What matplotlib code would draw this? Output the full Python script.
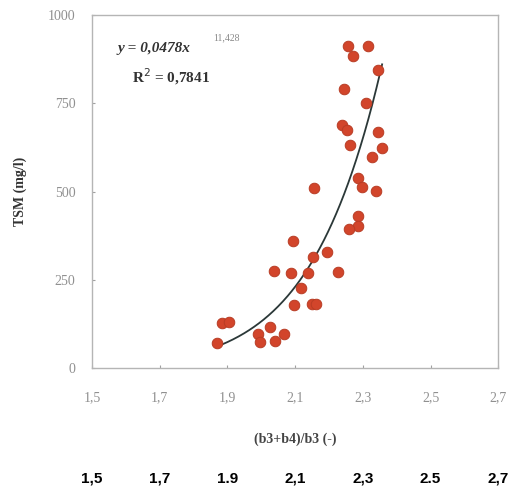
import numpy as np
import matplotlib
matplotlib.use("Agg")
import matplotlib.pyplot as plt

# (b3+b4)/b3 ratio and TSM (mg/l)
ratio = [2.255, 2.315, 2.272, 2.346, 2.245, 2.310, 2.238, 2.254, 2.344, 2.263,
         2.356, 2.327, 2.156, 2.287, 2.299, 2.339, 2.287, 2.287, 2.258, 2.095,
         2.194, 2.154, 2.228, 2.039, 2.087, 2.139, 2.118, 2.097, 2.149, 2.162,
         1.884, 1.905, 2.026, 1.991, 1.997, 2.068, 2.041, 1.868]
tsm = [913, 913, 885, 844, 792, 750, 688, 674, 669, 632,
       622, 597, 511, 537, 512, 502, 431, 402, 393, 361,
       329, 315, 271, 275, 268, 269, 227, 178, 181, 181,
       126, 130, 117, 97, 74, 95, 76, 71]

# power fit shown on the chart
fit_a = 0.0478
fit_b = 11.428
fit_range = (1.883, 2.357)

xticks = [1.5, 1.7, 1.9, 2.1, 2.3, 2.5, 2.7]
xtick_labels = ["1,5", "1,7", "1,9", "2,1", "2,3", "2,5", "2,7"]
bold_labels = ["1,5", "1,7", "1.9", "2,1", "2,3", "2.5", "2,7"]
yticks = [0, 250, 500, 750, 1000]

plt.rcParams['font.family'] = ['Liberation Serif', 'DejaVu Serif']

fig = plt.figure(figsize=(5.11, 4.88), dpi=100)
ax = fig.add_axes([0.180, 0.246, 0.795, 0.723])

xf = np.linspace(fit_range[0], fit_range[1], 200)
ax.plot(xf, fit_a * xf ** fit_b, color='#2b3838', lw=1.3, zorder=2)
ax.plot(ratio, tsm, 'o', ms=7.6, color='#d2452b', mec='#b83c24', mew=0.7, zorder=3)

ax.set_xlim(1.5, 2.7)
ax.set_ylim(0, 1000)
ax.set_xticks(xticks)
ax.set_xticklabels(xtick_labels)
ax.set_yticks(yticks)
ax.tick_params(colors='#a0a0a0', labelcolor='#909090', labelsize=10,
               direction='in', length=2, pad=12)
ax.tick_params(axis='x', pad=17)
for s in ax.spines.values():
    s.set_color('#b5b5b5')
    s.set_linewidth(1.0)

ax.set_xlabel("(b3+b4)/b3 (-)", fontsize=10, fontweight='bold', color='#444444', labelpad=20)
ax.set_ylabel("TSM (mg/l)", fontsize=10, fontweight='bold', color='#333333', labelpad=15)

ax.text(0.062, 0.895, "y = 0,0478x", transform=ax.transAxes, fontsize=11,
        fontweight='bold', fontstyle='italic', color='#333333')
ax.text(0.298, 0.928, "11,428", transform=ax.transAxes, fontsize=7, color='#888888')
ax.text(0.098, 0.81, "R$^2$ = 0,7841", transform=ax.transAxes, fontsize=11,
        fontweight='bold', color='#333333')

trans = ax.get_xaxis_transform()
for xv, lab in zip(xticks, bold_labels):
    ax.text(xv, -0.326, lab, transform=trans, ha='center', va='baseline',
            fontsize=11, fontweight='bold', family='Liberation Sans', clip_on=False)

fig.savefig("out.png", dpi=100)
